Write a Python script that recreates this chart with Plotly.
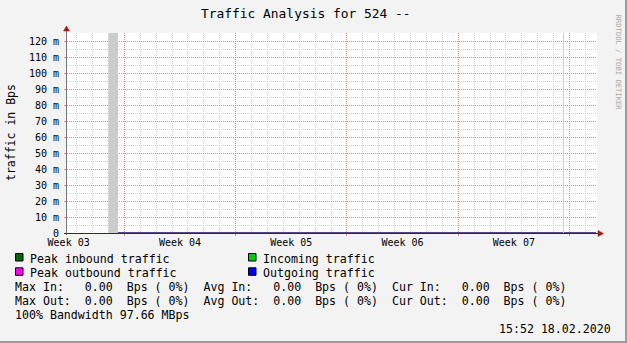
import pandas as pd
import plotly.graph_objects as go

# ---------------- data ----------------
title_text = "Traffic Analysis for 524 --"
y_axis_title = "traffic in Bps"
watermark = "RRDTOOL / TOBI OETIKER"

# samples (Bps) - everything reads as zero
sample_times = ["2020-01-19 14:30", "2020-01-26 00:00", "2020-02-02 00:00",
                "2020-02-09 00:00", "2020-02-16 14:00", "2020-02-16 15:30",
                "2020-02-18 15:52"]
peak_in = [0, 0, 0, 0, 0, 0, 0]
incoming = [0, 0, 0, 0, 0, 0, 0]
peak_out = [0, 0, 0, 0, 0, 0, 0]
outgoing = [0, 0, 0, 0, 0, 0, 0]

# intervals with unknown data (drawn grey)
unknown_starts = ["2020-01-19 00:00", "2020-02-16 14:00"]
unknown_ends = ["2020-01-19 14:30", "2020-02-16 15:30"]

x_range = ["2020-01-16 09:30", "2020-02-18 17:30"]
y_max = 0.125
y_ticks = [0, 0.01, 0.02, 0.03, 0.04, 0.05, 0.06, 0.07, 0.08, 0.09, 0.10, 0.11, 0.12]
y_labels = ["0", "10 m", "20 m", "30 m", "40 m", "50 m", "60 m", "70 m",
            "80 m", "90 m", "100 m", "110 m", "120 m"]
y_minor_step = 0.005

week_starts = ["2020-01-13", "2020-01-20", "2020-01-27", "2020-02-03", "2020-02-10", "2020-02-17"]
week_labels = ["Week 03", "Week 04", "Week 05", "Week 06", "Week 07", ""]

legend_names = ["Peak inbound traffic", "Incoming traffic",
                "Peak outbound traffic", "Outgoing traffic"]
legend_colors = ["#006600", "#00cc00", "#ff00ff", "#0000ff"]

stats_lines = [
    "Max In:   0.00  Bps ( 0%)  Avg In:   0.00  Bps ( 0%)  Cur In:   0.00  Bps ( 0%)",
    "Max Out:  0.00  Bps ( 0%)  Avg Out:  0.00  Bps ( 0%)  Cur Out:  0.00  Bps ( 0%)",
    "100% Bandwidth 97.66 MBps",
]
timestamp_text = "15:52 18.02.2020"

# ---------------- layout helpers ----------------
W, H = 627, 343
L, R, T, B = 67, 30, 33, 110
PW, PH = W - L - R, H - T - B
FONT = "DejaVu Sans Mono"


def X(px):
    return (px - L) / PW


def Y(py):
    return (T + PH - py) / PH


MGRID = "#dc8c8c"
GRID = "#cfcfcf"
DASH = "1px,1px"

# grid positions
major_days = [pd.Timestamp(s) for s in week_starts]
all_days = pd.date_range("2020-01-13", "2020-02-19", freq="D")
minor_days = [d.strftime("%Y-%m-%d") for d in all_days if d not in major_days]
major_days_str = [d.strftime("%Y-%m-%d") for d in major_days]
y_minor = [round(v + y_minor_step, 4) for v in y_ticks]

week_mid = [(pd.Timestamp(s) + pd.Timedelta(hours=84)).strftime("%Y-%m-%d %H:%M")
            for s in week_starts]

fig = go.Figure()

# traces
fig.add_trace(go.Scatter(x=sample_times, y=peak_in, mode="lines", fill="tozeroy",
                         line=dict(color=legend_colors[0], width=1),
                         name=legend_names[0], showlegend=False))
fig.add_trace(go.Scatter(x=sample_times, y=incoming, mode="lines", fill="tozeroy",
                         line=dict(color=legend_colors[1], width=1),
                         name=legend_names[1], showlegend=False))
fig.add_trace(go.Scatter(x=sample_times, y=peak_out, mode="lines",
                         line=dict(color=legend_colors[2], width=1),
                         name=legend_names[2], showlegend=False))
fig.add_trace(go.Scatter(x=sample_times, y=outgoing, mode="lines",
                         line=dict(color="#23236e", width=1),
                         name=legend_names[3], showlegend=False))
fig.add_trace(go.Scatter(x=[x_range[0]], y=[0], xaxis="x2", mode="markers",
                         marker=dict(opacity=0), showlegend=False, hoverinfo="skip"))

# unknown data
for s, e in zip(unknown_starts, unknown_ends):
    fig.add_shape(type="rect", xref="x", yref="y", x0=s, x1=e, y0=0, y1=y_max,
                  fillcolor="#cccccc", line=dict(width=0), layer="above")

shapes = []
# frame
shapes.append(dict(type="line", xref="paper", yref="paper", x0=X(0), x1=X(W), y0=Y(1), y1=Y(1),
                   line=dict(color="#cfcfcf", width=2)))
shapes.append(dict(type="line", xref="paper", yref="paper", x0=X(1), x1=X(1), y0=Y(0), y1=Y(H),
                   line=dict(color="#cfcfcf", width=2)))
shapes.append(dict(type="line", xref="paper", yref="paper", x0=X(0), x1=X(W), y0=Y(H - 1), y1=Y(H - 1),
                   line=dict(color="#9c9c9c", width=2)))
shapes.append(dict(type="line", xref="paper", yref="paper", x0=X(W - 1), x1=X(W - 1), y0=Y(0), y1=Y(H),
                   line=dict(color="#9c9c9c", width=2)))
# axes
shapes.append(dict(type="line", xref="paper", yref="paper", x0=X(66.5), x1=X(66.5), y0=Y(235), y1=Y(29),
                   line=dict(color="#777777", width=1)))
shapes.append(dict(type="line", xref="paper", yref="paper", x0=X(64), x1=X(599), y0=Y(233.5), y1=Y(233.5),
                   line=dict(color="#23236e", width=1)))
shapes.append(dict(type="path", xref="paper", yref="paper",
                   path=f"M {X(63.5)} {Y(31)} L {X(69.5)} {Y(31)} L {X(66.5)} {Y(26)} Z",
                   fillcolor="#a01818", line=dict(color="#a01818", width=0.5)))
shapes.append(dict(type="path", xref="paper", yref="paper",
                   path=f"M {X(598)} {Y(230.5)} L {X(598)} {Y(236.5)} L {X(603.5)} {Y(233.5)} Z",
                   fillcolor="#a01818", line=dict(color="#a01818", width=0.5)))

annotations = []
# legend
legend_pos = [(15.5, 253.5), (248.5, 253.5), (15.5, 267.8), (248.5, 267.8)]
for (lx, ly), name, col in zip(legend_pos, legend_names, legend_colors):
    shapes.append(dict(type="rect", xref="paper", yref="paper",
                       x0=X(lx), x1=X(lx + 7.5), y0=Y(ly + 7.5), y1=Y(ly),
                       fillcolor=col, line=dict(color="#000000", width=1)))
    annotations.append(dict(text=name, xref="paper", yref="paper", x=X(lx + 12.5), y=Y(ly + 5),
                            xanchor="left", yanchor="middle", showarrow=False,
                            font=dict(family=FONT, size=11.6, color="#000000")))

for txt, py in zip(stats_lines, [287.3, 300.7, 315]):
    annotations.append(dict(text=txt, xref="paper", yref="paper", x=X(13), y=Y(py),
                            xanchor="left", yanchor="middle", showarrow=False,
                            font=dict(family=FONT, size=11.6, color="#000000")))

annotations.append(dict(text=timestamp_text, xref="paper", yref="paper", x=X(613), y=Y(328.5),
                        xanchor="right", yanchor="middle", showarrow=False,
                        font=dict(family=FONT, size=11.6, color="#000000")))

annotations.append(dict(text=title_text, xref="paper", yref="paper", x=X(306), y=Y(13.5),
                        xanchor="center", yanchor="middle", showarrow=False,
                        font=dict(family=FONT, size=12.9, color="#000000")))

annotations.append(dict(text=y_axis_title, xref="paper", yref="paper", x=X(11), y=Y(133),
                        xanchor="center", yanchor="middle", showarrow=False, textangle=-90,
                        font=dict(family=FONT, size=11.5, color="#000000")))

annotations.append(dict(text=watermark, xref="paper", yref="paper", x=X(618), y=Y(62.5),
                        xanchor="center", yanchor="middle", showarrow=False, textangle=90,
                        font=dict(family=FONT, size=7.2, color="#a8a8a8")))

fig.update_layout(
    template="none",
    width=W, height=H,
    margin=dict(l=L, r=R, t=T, b=B),
    paper_bgcolor="#f3f3f3",
    plot_bgcolor="#ffffff",
    showlegend=False,
    hovermode=False,
    font=dict(family=FONT, size=10, color="#000000"),
    shapes=shapes,
    annotations=annotations,
    xaxis=dict(
        type="date", range=x_range, showticklabels=False,
        tickmode="array", tickvals=major_days_str,
        showgrid=True, gridcolor=MGRID, griddash=DASH, gridwidth=1,
        ticks="outside", ticklen=2, tickcolor=MGRID, tickwidth=1,
        minor=dict(tickmode="array", tickvals=minor_days, showgrid=True,
                   gridcolor=GRID, griddash=DASH, gridwidth=1, ticks=""),
        showline=False, zeroline=False,
    ),
    xaxis2=dict(
        type="date", overlaying="x", matches="x", side="bottom", anchor="y",
        tickmode="array", tickvals=week_mid, ticktext=week_labels,
        showgrid=False, ticks="", ticklabelstandoff=2,
        tickfont=dict(family=FONT, size=10, color="#000000"),
        showline=False, zeroline=False,
    ),
    yaxis=dict(
        range=[0, y_max], tickmode="array", tickvals=y_ticks, ticktext=y_labels,
        showgrid=True, gridcolor=MGRID, griddash=DASH, gridwidth=1,
        ticks="outside", ticklen=2, tickcolor=MGRID, tickwidth=1, ticklabelstandoff=3,
        minor=dict(tickmode="array", tickvals=y_minor, showgrid=True, gridcolor=GRID,
                   griddash=DASH, gridwidth=1, ticks=""),
        tickfont=dict(family=FONT, size=10, color="#000000"),
        showline=False, zeroline=False,
    ),
)

fig.write_html("out.html")
